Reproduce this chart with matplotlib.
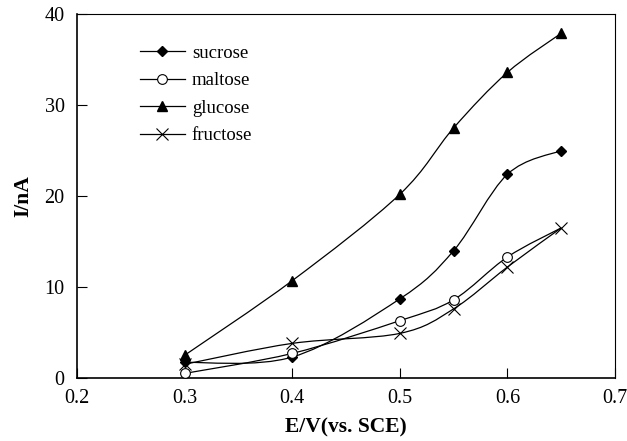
"""Figure: current response vs potential for four sugars."""
import matplotlib
matplotlib.use("Agg")
import matplotlib.pyplot as plt
import numpy as np
from matplotlib.path import Path
from matplotlib.patches import PathPatch

plt.rcParams["font.family"] = ["Liberation Serif", "DejaVu Serif"]

potential = [0.30, 0.40, 0.50, 0.55, 0.60, 0.65]
sucrose = [1.7, 2.3, 8.7, 14.0, 22.4, 25.0]
maltose = [0.5, 2.7, 6.3, 8.6, 13.3, 16.5]
glucose = [2.5, 10.7, 20.2, 27.5, 33.6, 37.9]
fructose = [1.5, 3.8, 4.9, 7.6, 12.2, 16.5]


def smooth_path(x, y):
    # bezier segments through the points, like spreadsheet "smoothed line"
    pts = np.column_stack([x, y]).astype(float)
    verts = [pts[0]]
    codes = [Path.MOVETO]
    n = len(pts)
    for i in range(n - 1):
        p0 = pts[i - 1] if i > 0 else pts[i]
        p1 = pts[i]
        p2 = pts[i + 1]
        p3 = pts[i + 2] if i + 2 < n else pts[i + 1]
        c1 = p1 + (p2 - p0) / 6
        c2 = p2 - (p3 - p1) / 6
        verts += [c1, c2, p2]
        codes += [Path.CURVE4] * 3
    return Path(verts, codes)


fig, ax = plt.subplots(figsize=(6.27, 4.41), dpi=100)
fig.subplots_adjust(left=0.123, right=0.981, bottom=0.143, top=0.968)

series = [
    ("sucrose", sucrose, dict(marker="D", ms=5.5, mfc="black", mec="black"), None),
    ("maltose", maltose, dict(marker="o", ms=7, mfc="white", mec="black", mew=0.8), [0, 1, 2, 3, 4]),
    ("glucose", glucose, dict(marker="^", ms=7.5, mfc="black", mec="black"), None),
    ("fructose", fructose, dict(marker="x", ms=8, mfc="none", mec="black", mew=0.8), None),
]

for name, vals, style, every in series:
    ax.add_patch(PathPatch(smooth_path(potential, vals), fill=False,
                           edgecolor="black", lw=0.9, zorder=2))
    ax.plot(potential, vals, ls="none", zorder=3, markevery=every, **style)
    ax.plot([], [], color="black", lw=0.9, label=name, **style)

ax.set_xlim(0.2, 0.7)
ax.set_ylim(0, 40)
ax.set_xticks([0.2, 0.3, 0.4, 0.5, 0.6, 0.7])
ax.set_xticklabels(["0.2", "0.3", "0.4", "0.5", "0.6", "0.7"])
ax.set_yticks([0, 10, 20, 30, 40])
ax.tick_params(direction="in", length=7, width=0.8, labelsize=14.5)
ax.tick_params(axis="x", pad=8)
ax.tick_params(axis="y", pad=9)
for sp in ax.spines.values():
    sp.set_linewidth(0.8)
ax.spines["left"].set_linewidth(1.2)
ax.spines["bottom"].set_linewidth(1.2)

ax.set_xlabel("E/V(vs. SCE)", fontsize=15.5, fontweight="bold", labelpad=7)
ax.set_ylabel("I/nA", fontsize=15.5, fontweight="bold", labelpad=8)

ax.legend(loc="upper left", bbox_to_anchor=(0.085, 0.962), frameon=False,
          fontsize=13.5, handlelength=2.4, handletextpad=0.38, labelspacing=0.55)

fig.savefig("out.png", dpi=100)
